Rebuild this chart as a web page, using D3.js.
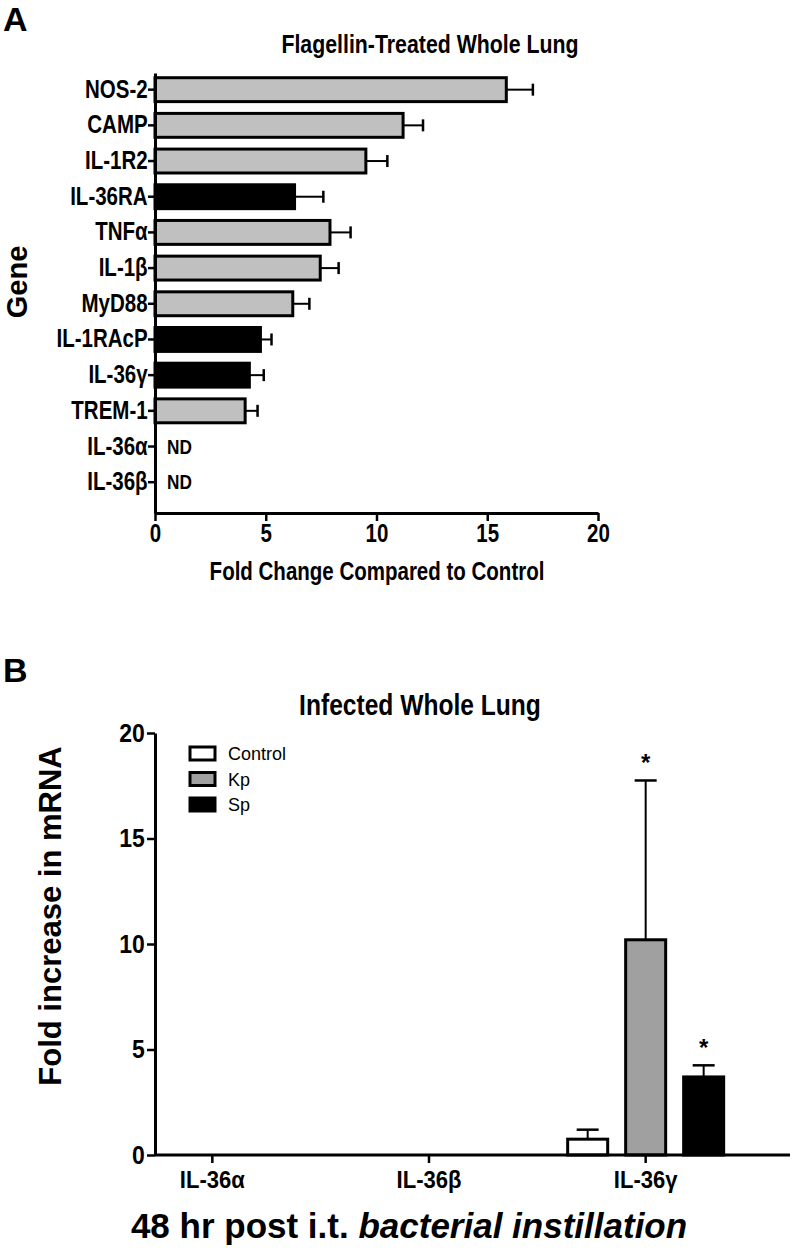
<!DOCTYPE html>
<html>
<head>
<meta charset="utf-8">
<script src="https://cdn.jsdelivr.net/npm/d3@7"></script>
<style>
  body { margin: 0; background: #fff; }
  text { font-family: 'Liberation Sans', Arial, sans-serif; }
</style>
</head>
<body>
<div id="renderer"></div>
<script>
// panel A data
var genes = ['NOS-2', 'CAMP', 'IL-1R2', 'IL-36RA', 'TNF\u03b1', 'IL-1\u03b2', 'MyD88',
  'IL-1RAcP', 'IL-36\u03b3', 'TREM-1', 'IL-36\u03b1', 'IL-36\u03b2'];
var foldMean = [15.86, 11.2, 9.52, 6.3, 7.9, 7.46, 6.22, 4.76, 4.26, 4.07, null, null];
var foldErr = [1.2, 0.9, 0.97, 1.3, 0.93, 0.83, 0.75, 0.5, 0.65, 0.56, null, null];
var geneIsIL36 = [false, false, false, true, false, false, false, true, true, false, true, true];
var xTicksA = [0, 5, 10, 15, 20];

// panel B data
var targets = ['IL-36\u03b1', 'IL-36\u03b2', 'IL-36\u03b3'];
var groups = ['Control', 'Kp', 'Sp'];
var controlMean = [0, 0, 0.75];
var controlErr = [0, 0, 0.45];
var kpMean = [0, 0, 10.2];
var kpErr = [0, 0, 7.55];
var spMean = [0, 0, 3.7];
var spErr = [0, 0, 0.55];
var signif = [[false, false, false], [false, false, true], [false, false, true]];
var yTicksB = [0, 5, 10, 15, 20];

// the figure uses a condensed bold face; squeeze the regular one
var squeeze = 0.82;

var svg = d3.select('#renderer').append('svg').attr('width', 812).attr('height', 1251);

function styleAxis(ax, size, k) {
  ax.select('.domain').attr('stroke-width', 3);
  ax.selectAll('.tick line').attr('stroke-width', 2.5);
  ax.selectAll('.tick text').style('font-size', size + 'px').style('font-weight', 'bold')
    .style('font-family', "'Liberation Sans', Arial, sans-serif").attr('fill', '#000')
    .attr('transform', 'scale(' + k + ',1)');
}

function label(parent, x, y, str, size, k) {
  return parent.append('text')
    .attr('transform', 'translate(' + x + ',' + y + ') scale(' + k + ',1)')
    .attr('text-anchor', 'middle').text(str)
    .style('font-size', size + 'px').style('font-weight', 'bold');
}

// ---------- panel A ----------
var xA = d3.scaleLinear().domain([0, 20]).range([155, 598]);
var yA = d3.scaleBand().domain(genes).range([73, 513])
  .paddingInner(0.33).paddingOuter(0.33).align(0.2);

var gA = svg.append('g');

gA.append('text').attr('x', 3).attr('y', 31).text('A')
  .style('font-size', '34px').style('font-weight', 'bold');

label(gA, 430, 53, 'Flagellin-Treated Whole Lung', 26, squeeze);

var rowsA = genes.map(function (g, i) {
  return { name: g, mean: foldMean[i], err: foldErr[i], black: geneIsIL36[i] };
});
var measuredA = rowsA.filter(function (d) { return d.mean != null; });

gA.selectAll('rect.bar').data(measuredA)
  .enter().append('rect')
  .attr('class', 'bar')
  .attr('x', xA(0))
  .attr('y', function (d) { return yA(d.name); })
  .attr('width', function (d) { return xA(d.mean) - xA(0); })
  .attr('height', yA.bandwidth())
  .attr('fill', function (d) { return d.black ? '#000' : '#c0c0c0'; })
  .attr('stroke', '#000')
  .attr('stroke-width', 3);

var errA = gA.selectAll('g.err').data(measuredA)
  .enter().append('g').attr('class', 'err');
errA.append('line')
  .attr('x1', function (d) { return xA(d.mean); })
  .attr('x2', function (d) { return xA(d.mean + d.err); })
  .attr('y1', function (d) { return yA(d.name) + yA.bandwidth() / 2; })
  .attr('y2', function (d) { return yA(d.name) + yA.bandwidth() / 2; })
  .attr('stroke', '#000').attr('stroke-width', 2);
errA.append('line')
  .attr('x1', function (d) { return xA(d.mean + d.err); })
  .attr('x2', function (d) { return xA(d.mean + d.err); })
  .attr('y1', function (d) { return yA(d.name) + yA.bandwidth() / 2 - 6; })
  .attr('y2', function (d) { return yA(d.name) + yA.bandwidth() / 2 + 6; })
  .attr('stroke', '#000').attr('stroke-width', 2.5);

gA.selectAll('text.nd').data(rowsA.filter(function (d) { return d.mean == null; }))
  .enter().append('text')
  .attr('class', 'nd')
  .attr('transform', function (d) {
    return 'translate(' + (xA(0) + 12) + ',' + (yA(d.name) + yA.bandwidth() / 2 + 7) + ') scale(' + squeeze + ',1)';
  })
  .text('ND')
  .style('font-size', '21px').style('font-weight', 'bold');

var axisXA = gA.append('g').attr('transform', 'translate(0,' + 513 + ')')
  .call(d3.axisBottom(xA).tickValues(xTicksA).tickSize(8).tickPadding(3).tickSizeOuter(0));
var axisYA = gA.append('g').attr('transform', 'translate(' + 155 + ',0)')
  .call(d3.axisLeft(yA).tickSize(7).tickPadding(2).tickSizeOuter(0));
styleAxis(axisXA, 25, squeeze);
styleAxis(axisYA, 25, squeeze);

label(gA, 377, 580, 'Fold Change Compared to Control', 25, squeeze);

gA.append('text').attr('transform', 'translate(27,' + 282 + ') rotate(-90)')
  .attr('text-anchor', 'middle').text('Gene')
  .style('font-size', '29px').style('font-weight', 'bold');

// ---------- panel B ----------
var xB = d3.scaleBand().domain(targets).range([104, 754]);
var subB = d3.scaleBand().domain(groups).range([0, xB.bandwidth()]).paddingInner(0.31).paddingOuter(0.523);
var yB = d3.scaleLinear().domain([0, 20]).range([1155, 733]);
var fillB = { Control: '#fff', Kp: '#a0a0a0', Sp: '#000' };
var axisLeftB = 155;
var axisRightB = 790;

var gB = svg.append('g');

gB.append('text').attr('x', 3).attr('y', 682).text('B')
  .style('font-size', '34px').style('font-weight', 'bold');

label(gB, 420, 715, 'Infected Whole Lung', 30, squeeze);

var barsB = [];
targets.forEach(function (t, i) {
  barsB.push({ target: t, group: 'Control', mean: controlMean[i], err: controlErr[i], star: signif[0][i] });
  barsB.push({ target: t, group: 'Kp', mean: kpMean[i], err: kpErr[i], star: signif[1][i] });
  barsB.push({ target: t, group: 'Sp', mean: spMean[i], err: spErr[i], star: signif[2][i] });
});
var shownB = barsB.filter(function (d) { return d.mean > 0; });

function cx(d) {
  return xB(d.target) + subB(d.group) + subB.bandwidth() / 2;
}

gB.selectAll('rect.bar').data(shownB).enter().append('rect')
  .attr('class', 'bar')
  .attr('x', function (d) { return xB(d.target) + subB(d.group); })
  .attr('y', function (d) { return yB(d.mean); })
  .attr('width', subB.bandwidth())
  .attr('height', function (d) { return yB(0) - yB(d.mean); })
  .attr('fill', function (d) { return fillB[d.group]; })
  .attr('stroke', '#000').attr('stroke-width', 3);

var errB = gB.selectAll('g.err').data(shownB).enter().append('g').attr('class', 'err');
errB.append('line')
  .attr('x1', cx).attr('x2', cx)
  .attr('y1', function (d) { return yB(d.mean); })
  .attr('y2', function (d) { return yB(d.mean + d.err); })
  .attr('stroke', '#000').attr('stroke-width', 2);
errB.append('line')
  .attr('x1', function (d) { return cx(d) - 11; })
  .attr('x2', function (d) { return cx(d) + 11; })
  .attr('y1', function (d) { return yB(d.mean + d.err); })
  .attr('y2', function (d) { return yB(d.mean + d.err); })
  .attr('stroke', '#000').attr('stroke-width', 2.5);

gB.selectAll('text.star').data(shownB.filter(function (d) { return d.star; }))
  .enter().append('text')
  .attr('class', 'star')
  .attr('x', cx)
  .attr('y', function (d) { return yB(d.mean + d.err) - 9; })
  .attr('text-anchor', 'middle').text('*')
  .style('font-size', '24px').style('font-weight', 'bold');

var axisXB = gB.append('g').attr('transform', 'translate(0,' + yB(0) + ')')
  .call(d3.axisBottom(xB).tickSize(8).tickPadding(8).tickSizeOuter(0));
axisXB.select('.domain').remove();
axisXB.append('line').attr('class', 'domain')
  .attr('x1', axisLeftB).attr('x2', axisRightB)
  .attr('stroke', '#000');
var axisYB = gB.append('g').attr('transform', 'translate(' + axisLeftB + ',0)')
  .call(d3.axisLeft(yB).tickValues(yTicksB).tickSize(8).tickPadding(3).tickSizeOuter(0));
styleAxis(axisXB, 24, 0.92);
styleAxis(axisYB, 25, 0.92);

// legend
var legend = gB.selectAll('g.legend').data(groups).enter().append('g')
  .attr('class', 'legend')
  .attr('transform', function (d, i) { return 'translate(190,' + (747 + i * 25.5) + ')'; });
legend.append('rect').attr('width', 25).attr('height', 13)
  .attr('fill', function (d) { return fillB[d]; })
  .attr('stroke', '#000').attr('stroke-width', 3);
legend.append('text').attr('x', 38).attr('y', 13).text(function (d) { return d; })
  .style('font-size', '18px');

var xlabB = gB.append('text').attr('x', 409).attr('y', 1238).attr('text-anchor', 'middle')
  .style('font-size', '35px').style('font-weight', 'bold');
xlabB.append('tspan').text('48 hr post i.t. ');
xlabB.append('tspan').style('font-style', 'italic').text('bacterial instillation');

gB.append('text').attr('transform', 'translate(61,' + 916 + ') rotate(-90)')
  .attr('text-anchor', 'middle').text('Fold increase in mRNA')
  .style('font-size', '31px').style('font-weight', 'bold');
</script>
</body>
</html>
